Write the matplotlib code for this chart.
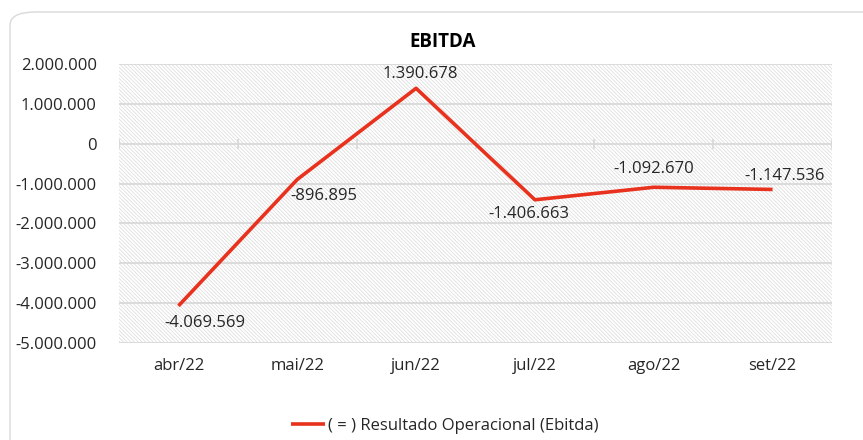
import matplotlib
matplotlib.use("Agg")
import matplotlib.pyplot as plt
import matplotlib.patches as mpatches
import matplotlib.ticker as mticker

months = ["abr/22", "mai/22", "jun/22", "jul/22", "ago/22", "set/22"]
ebitda = [-4069569, -896895, 1390678, -1406663, -1092670, -1147536]
yticks = [2000000, 1000000, 0, -1000000, -2000000, -3000000, -4000000, -5000000]
# label offsets in points (dx, dy)
lbl_off = [(19, -12), (19, -12), (3, 10), (-4, -10), (0, 13), (9, 10)]

plt.rcParams['font.family'] = ['Open Sans', 'DejaVu Sans']
plt.rcParams['hatch.color'] = '#d9d9d9'
plt.rcParams['hatch.linewidth'] = 0.5

fig = plt.figure(figsize=(8.63, 4.4), dpi=100)

# rounded border around the chart
border = mpatches.FancyBboxPatch((10/863, -0.2), 1.2, 1 - 12/440 + 0.2,
                                 boxstyle="round,pad=0,rounding_size=0.03",
                                 transform=fig.transFigure, fill=False,
                                 edgecolor='#d9d9d9', linewidth=1.0)
fig.patches.append(border)

ax = fig.add_axes([119/863, 1 - 343/440, 713/863, 279/440])
x = list(range(len(months)))
ax.set_xlim(-0.5, 5.5)
ax.set_ylim(-5000000, 2000000)

# hatched background
ax.add_patch(mpatches.Rectangle((-0.5, -5000000), 6, 7000000, facecolor='white',
                                edgecolor='#d9d9d9', hatch='\\' * 9, linewidth=0, zorder=0))

for y in yticks:
    ax.axhline(y, color='#d9d9d9', linewidth=1.3, zorder=1)
# ticks on the zero line
for b in range(7):
    ax.plot([b - 0.5, b - 0.5], [-100000, 100000], color='#d9d9d9', linewidth=1.3, zorder=1)

ax.plot(x, ebitda, color='#e8321e', linewidth=2.6, zorder=3,
        label='( = ) Resultado Operacional (Ebitda)', solid_capstyle='butt')

def fmt(v):
    s = f"{abs(v):,}".replace(",", ".")
    return "-" + s if v < 0 else s

for i, v in enumerate(ebitda):
    dx, dy = lbl_off[i]
    ax.annotate(fmt(v), (i, v), xytext=(dx, dy), textcoords='offset points',
                ha='center', va='center', fontsize=12, color='#262626', zorder=4)

ax.set_yticks(yticks)
ax.yaxis.set_major_formatter(mticker.FuncFormatter(lambda v, p: fmt(int(v))))
ax.set_xticks(x)
ax.set_xticklabels(months)
ax.tick_params(axis='both', length=0, labelsize=12, colors='#262626')
ax.tick_params(axis='y', pad=16)
ax.tick_params(axis='x', pad=11)
for s in ax.spines.values():
    s.set_visible(False)

fig.text(443/863, 1 - 42/440, "EBITDA", ha='center', va='center',
         fontsize=13.5, fontweight='bold', color='#000000')

fig.legend(loc='center', bbox_to_anchor=(445/863, 1 - 426/440), frameon=False,
           fontsize=12, handlelength=2.0, handletextpad=0.2, labelcolor='#262626')

fig.savefig("out.png", dpi=100)
